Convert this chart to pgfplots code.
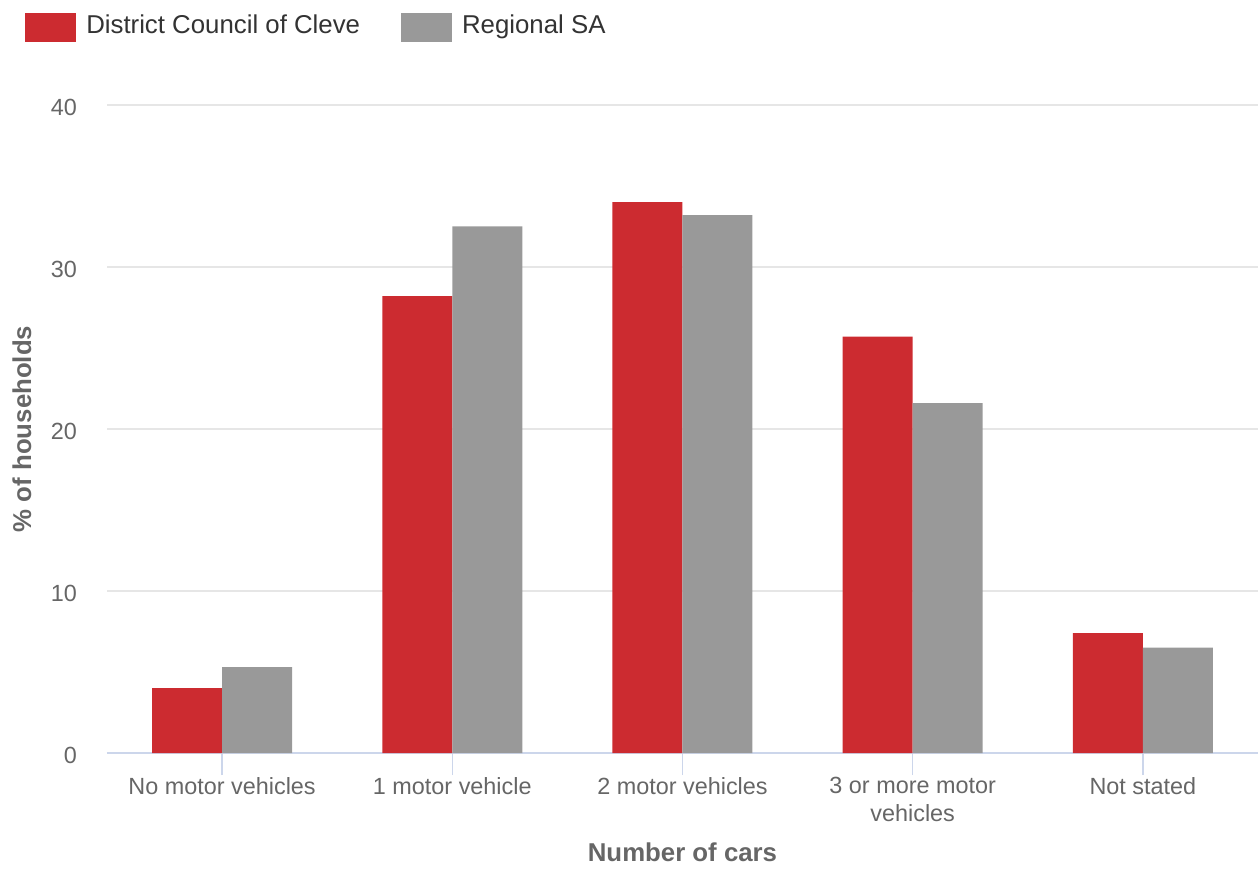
\documentclass[border=0pt]{standalone}
\usepackage{fontspec}
\setmainfont{Liberation Sans}
\usepackage{pgfplots}
\pgfplotsset{compat=1.18}
\definecolor{cred}{HTML}{CC2B30}
\definecolor{cgray}{HTML}{999999}
\definecolor{axisc}{HTML}{CCD6EB}
\definecolor{gridc}{HTML}{E6E6E6}
\definecolor{labc}{HTML}{666666}
\definecolor{legc}{HTML}{333333}
\begin{document}
\begin{tikzpicture}
\useasboundingbox (-107pt,-115pt) rectangle (1151pt,753pt);
\begin{axis}[
  at={(0pt,0pt)}, anchor=south west,
  scale only axis, width=1151pt, height=648pt,
  xmin=-0.5, xmax=4.5, ymin=0, ymax=40,
  ybar=0pt, bar width=70pt,
  axis x line*=bottom,
  axis y line*=left,
  x axis line style={draw=axisc, line width=2pt, -},
  y axis line style={draw=none},
  xtick={0,1,2,3,4},
  xticklabels={No motor vehicles, 1 motor vehicle, 2 motor vehicles, 3 or more motor\\vehicles, Not stated},
  tick align=outside,
  major tick length=22pt,
  xtick style={draw=axisc, line width=1.5pt},
  ytick style={draw=none},
  xticklabel style={font=\fontsize{23.4}{27.5}\selectfont, text=labc, align=center, inner sep=0pt, yshift=-2pt},
  ymajorgrids, grid style={draw=gridc, line width=1.5pt},
  ytick={0,10,20,30,40},
  /pgf/number format/assume math mode=true,
  yticklabel style={font=\fontsize{23.4}{28}\selectfont, text=labc, inner sep=0pt, anchor=east, xshift=-8pt, yshift=-2pt},
  xlabel={\bfseries Number of cars},
  xlabel style={font=\fontsize{25.8}{30}\selectfont, text=labc, at={(0.5,0)}, anchor=center, yshift=-99pt},
  ylabel={\bfseries \% of households},
  ylabel style={font=\fontsize{25.8}{30}\selectfont, text=labc, at={(0,0.5)}, anchor=center, rotate=0, yshift=85pt},
  legend columns=-1,
  legend style={draw=none, fill=none, at={(-0.0712,1.1196)}, anchor=west, inner sep=0pt,
    font=\fontsize{25.8}{30}\selectfont, text=legc,
    nodes={inner sep=0pt},
    /tikz/every odd column/.append style={column sep=10pt},
    /tikz/every even column/.append style={column sep=41pt}},
  legend image code/.code={\fill (0pt,-17pt) rectangle (51pt,12pt);},
]
\addplot[fill=cred, draw=none] coordinates {(0,4.0) (1,28.2) (2,34.0) (3,25.7) (4,7.4)};
\addplot[fill=cgray, draw=none] coordinates {(0,5.3) (1,32.5) (2,33.2) (3,21.6) (4,6.5)};
\legend{District Council of Cleve, Regional SA}
\end{axis}
\end{tikzpicture}
\end{document}
